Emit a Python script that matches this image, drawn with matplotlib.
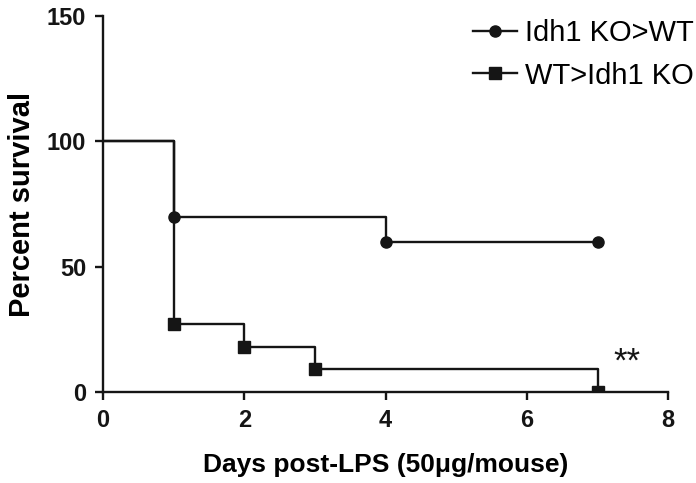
import matplotlib
matplotlib.use("Agg")
import matplotlib.pyplot as plt

plt.rcParams['font.family'] = ['Liberation Sans', 'DejaVu Sans']

# survival data (days, percent)
days_ko_wt = [0, 1, 4, 7]
surv_ko_wt = [100, 70, 60, 60]
days_wt_ko = [0, 1, 2, 3, 7]
surv_wt_ko = [100, 27.3, 18.2, 9.1, 0]
labels = ["Idh1 KO>WT", "WT>Idh1 KO"]
x_ticks = [0, 2, 4, 6, 8]
y_ticks = [0, 50, 100, 150]

fig = plt.figure(figsize=(6.96, 4.83), dpi=100)
ax = fig.add_axes([0.148, 0.188, 0.812, 0.779])

ax.plot(days_ko_wt, surv_ko_wt, drawstyle="steps-post", color="#151515", lw=1.7,
        marker="o", ms=8, markevery=list(range(1, len(days_ko_wt))), label=labels[0])
ax.plot(days_wt_ko, surv_wt_ko, drawstyle="steps-post", color="#151515", lw=1.7,
        marker="s", ms=8, markevery=list(range(1, len(days_wt_ko))), label=labels[1])

ax.text(7.42, 5.5, "**", fontsize=25, ha="center", va="bottom", color="#151515")

ax.set_xlim(0, 8)
ax.set_ylim(0, 150)
ax.set_xticks(x_ticks)
ax.set_yticks(y_ticks)
for s in ["top", "right"]:
    ax.spines[s].set_visible(False)
for s in ["left", "bottom"]:
    ax.spines[s].set_linewidth(1.7)
    ax.spines[s].set_color("#151515")
ax.tick_params(width=1.7, length=6, labelsize=17, colors="#151515", pad=6)
for t in ax.get_xticklabels() + ax.get_yticklabels():
    t.set_fontweight("bold")

ax.set_xlabel("Days post-LPS (50\u03bcg/mouse)", fontsize=19, fontweight="bold", labelpad=15)
ax.set_ylabel("Percent survival", fontsize=21, fontweight="bold", labelpad=8)

fig.legend(loc="upper right", bbox_to_anchor=(1.035, 1.015), frameon=False, fontsize=21,
           handlelength=1.5, handletextpad=0.3, labelspacing=0.5)

fig.savefig("out.png", dpi=100)
